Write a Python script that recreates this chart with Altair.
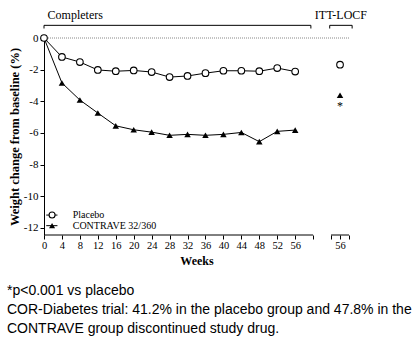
import altair as alt
import pandas as pd

# ---- data ----
weeks = [0, 4, 8, 12, 16, 20, 24, 28, 32, 36, 40, 44, 48, 52, 56]
placebo = [0, -1.2, -1.52, -2.02, -2.1, -2.05, -2.15, -2.47, -2.4, -2.22, -2.07, -2.07, -2.1, -1.9, -2.12]
contrave = [0, -2.84, -3.92, -4.74, -5.55, -5.8, -5.95, -6.15, -6.09, -6.15, -6.09, -5.97, -6.55, -5.9, -5.82]
itt_pos = 66          # position of the ITT-LOCF column (labelled 56)
itt_placebo = -1.69
itt_contrave = -3.62
star_label = "*"
x_ticks = [0, 4, 8, 12, 16, 20, 24, 28, 32, 36, 40, 44, 48, 52, 56, 60, 64, 66, 68]
y_ticks = [0, -2, -4, -6, -8, -10, -12]
series_names = ["Placebo", "CONTRAVE 32/360"]
group_labels = ["Completers", "ITT-LOCF"]
footnotes = [
    "*p<0.001 vs placebo",
    "COR-Diabetes trial: 41.2% in the placebo group and 47.8% in the",
    "CONTRAVE group discontinued study drug.",
]

# ---- layout helpers ----
X_MIN, X_MAX = 0, 68
Y_MIN, Y_MAX = -12.45, 0
SERIF = "Liberation Serif, Times New Roman, DejaVu Serif, serif"
SANS = "Liberation Sans, Arial, sans-serif"

xscale = alt.Scale(domain=[X_MIN, X_MAX], nice=False, zero=False)
yscale = alt.Scale(domain=[Y_MIN, Y_MAX], nice=False, zero=False)

xaxis = alt.Axis(
    values=x_ticks,
    labelExpr="datum.value == 66 ? '56' : (datum.value <= 56 ? datum.label : '')",
    domain=False, grid=False, ticks=True, tickSize=4, tickColor="black", tickWidth=1,
    labelFont=SERIF, labelFontSize=10.5, labelColor="black", labelPadding=1,
    title="Weeks", titleFont=SERIF, titleFontSize=12, titleFontWeight="bold",
    titleColor="black", titlePadding=5, labelFlush=False, labelOverlap=False,
)
yaxis = alt.Axis(
    values=y_ticks, domain=True, domainColor="black", domainWidth=1,
    grid=False, tickSize=4, tickColor="black",
    labelFont=SERIF, labelFontSize=11, labelColor="black", labelPadding=2,
    labelExpr="replace(datum.label, '\u2212', '-')",
    title="Weight change from baseline (%)", titleFont=SERIF, titleFontSize=12.5,
    titleFontWeight="bold", titleColor="black",
    titleX=-30, titleY=98.5, titleAngle=-90, titleBaseline="middle", titleAlign="center",
)


def X(f="x"):
    return alt.X(f"{f}:Q", scale=xscale, axis=xaxis)


def Y(f="y"):
    return alt.Y(f"{f}:Q", scale=yscale, axis=yaxis)


# series data
df_p = pd.DataFrame({"x": weeks, "y": placebo})
df_c = pd.DataFrame({"x": weeks, "y": contrave})
df_itt_p = pd.DataFrame({"x": [itt_pos], "y": [itt_placebo]})
df_itt_c = pd.DataFrame({"x": [itt_pos], "y": [itt_contrave]})
df_star = pd.DataFrame({"x": [itt_pos], "y": [itt_contrave - 0.65], "t": [star_label]})

# reference/decoration data
df_zero = pd.DataFrame({"x": [X_MIN], "x2": [X_MAX], "y": [0]})
df_xaxis = pd.DataFrame({"x": [0, 64], "x2": [60, 68], "y": [Y_MIN, Y_MIN]})
df_br_h = pd.DataFrame({"x": [0, 63.7], "x2": [59.5, 68.7], "y": [0.8, 0.8]})
df_br_v = pd.DataFrame({"x": [0, 59.5, 63.7, 68.7], "y": [0.8] * 4, "y2": [0.6] * 4})
df_br_t = pd.DataFrame({"x": [0.8, 66.2], "y": [1.45, 1.45], "t": group_labels})

# legend data
df_leg_line = pd.DataFrame({"x": [0.5, 0.5], "x2": [3.0, 3.0], "y": [-11.19, -11.86]})
df_leg_p = pd.DataFrame({"x": [1.8], "y": [-11.19]})
df_leg_c = pd.DataFrame({"x": [1.8], "y": [-11.86]})
df_leg_t = pd.DataFrame({"x": [6.4, 6.4], "y": [-11.19, -11.86], "t": series_names})

zero_line = alt.Chart(df_zero).mark_rule(color="#888888", strokeDash=[1, 1], strokeWidth=1).encode(
    x=X(), x2="x2:Q", y=Y())
x_axis_line = alt.Chart(df_xaxis).mark_rule(color="black", strokeWidth=1).encode(
    x=X(), x2="x2:Q", y=Y())
br_h = alt.Chart(df_br_h).mark_rule(color="black", strokeWidth=1).encode(x=X(), x2="x2:Q", y=Y())
br_v = alt.Chart(df_br_v).mark_rule(color="black", strokeWidth=1).encode(x=X(), y=Y(), y2="y2:Q")
br_t_l = alt.Chart(df_br_t.iloc[[0]]).mark_text(font=SERIF, fontSize=12, fill="black", baseline="middle",
                                                align="left").encode(x=X(), y=Y(), text="t:N")
br_t_r = alt.Chart(df_br_t.iloc[[1]]).mark_text(font=SERIF, fontSize=12, fill="black", baseline="middle",
                                                align="center").encode(x=X(), y=Y(), text="t:N")

line_p = alt.Chart(df_p).mark_line(color="black", strokeWidth=1).encode(x=X(), y=Y())
line_c = alt.Chart(df_c).mark_line(color="black", strokeWidth=1).encode(x=X(), y=Y())
pts_c = alt.Chart(df_c).mark_point(shape="triangle-up", filled=True, color="black", size=42, opacity=1).encode(
    x=X(), y=Y())
pts_p = alt.Chart(df_p).mark_point(shape="circle", filled=True, fill="white", stroke="black",
                                   strokeWidth=1.1, size=44, opacity=1).encode(x=X(), y=Y())
itt_p = alt.Chart(df_itt_p).mark_point(shape="circle", filled=True, fill="white", stroke="black",
                                       strokeWidth=1.1, size=44, opacity=1).encode(x=X(), y=Y())
itt_c = alt.Chart(df_itt_c).mark_point(shape="triangle-up", filled=True, color="black", size=42,
                                       opacity=1).encode(x=X(), y=Y())
star = alt.Chart(df_star).mark_text(font=SERIF, fontSize=12, fill="black", baseline="middle").encode(
    x=X(), y=Y(), text="t:N")

leg_line = alt.Chart(df_leg_line).mark_rule(color="black", strokeWidth=1).encode(x=X(), x2="x2:Q", y=Y())
leg_p = alt.Chart(df_leg_p).mark_point(shape="circle", filled=True, fill="white", stroke="black",
                                       strokeWidth=1.1, size=36, opacity=1).encode(x=X(), y=Y())
leg_c = alt.Chart(df_leg_c).mark_point(shape="triangle-up", filled=True, color="black", size=36,
                                       opacity=1).encode(x=X(), y=Y())
leg_t = alt.Chart(df_leg_t).mark_text(font=SERIF, fontSize=10, fill="black", align="left",
                                      baseline="middle").encode(x=X(), y=Y(), text="t:N")

chart = alt.layer(
    zero_line, x_axis_line, br_h, br_v, br_t_l, br_t_r,
    line_p, line_c, pts_c, pts_p, itt_p, itt_c, star,
    leg_line, leg_p, leg_c, leg_t,
).properties(
    width=305, height=197,
    autosize=alt.AutoSizeParams(type="none"),
    padding={"left": 44, "top": 38, "right": 66, "bottom": 119},
    background="white",
    title=alt.TitleParams(
        text=footnotes, orient="bottom", anchor="start", frame="group",
        font=SANS, fontSize=14, fontWeight="normal", color="black",
        lineHeight=19, dx=-37, offset=17, baseline="top",
    ),
).configure_view(stroke=None)

chart.save("out.html", embed_options={"renderer": "svg", "actions": False})
